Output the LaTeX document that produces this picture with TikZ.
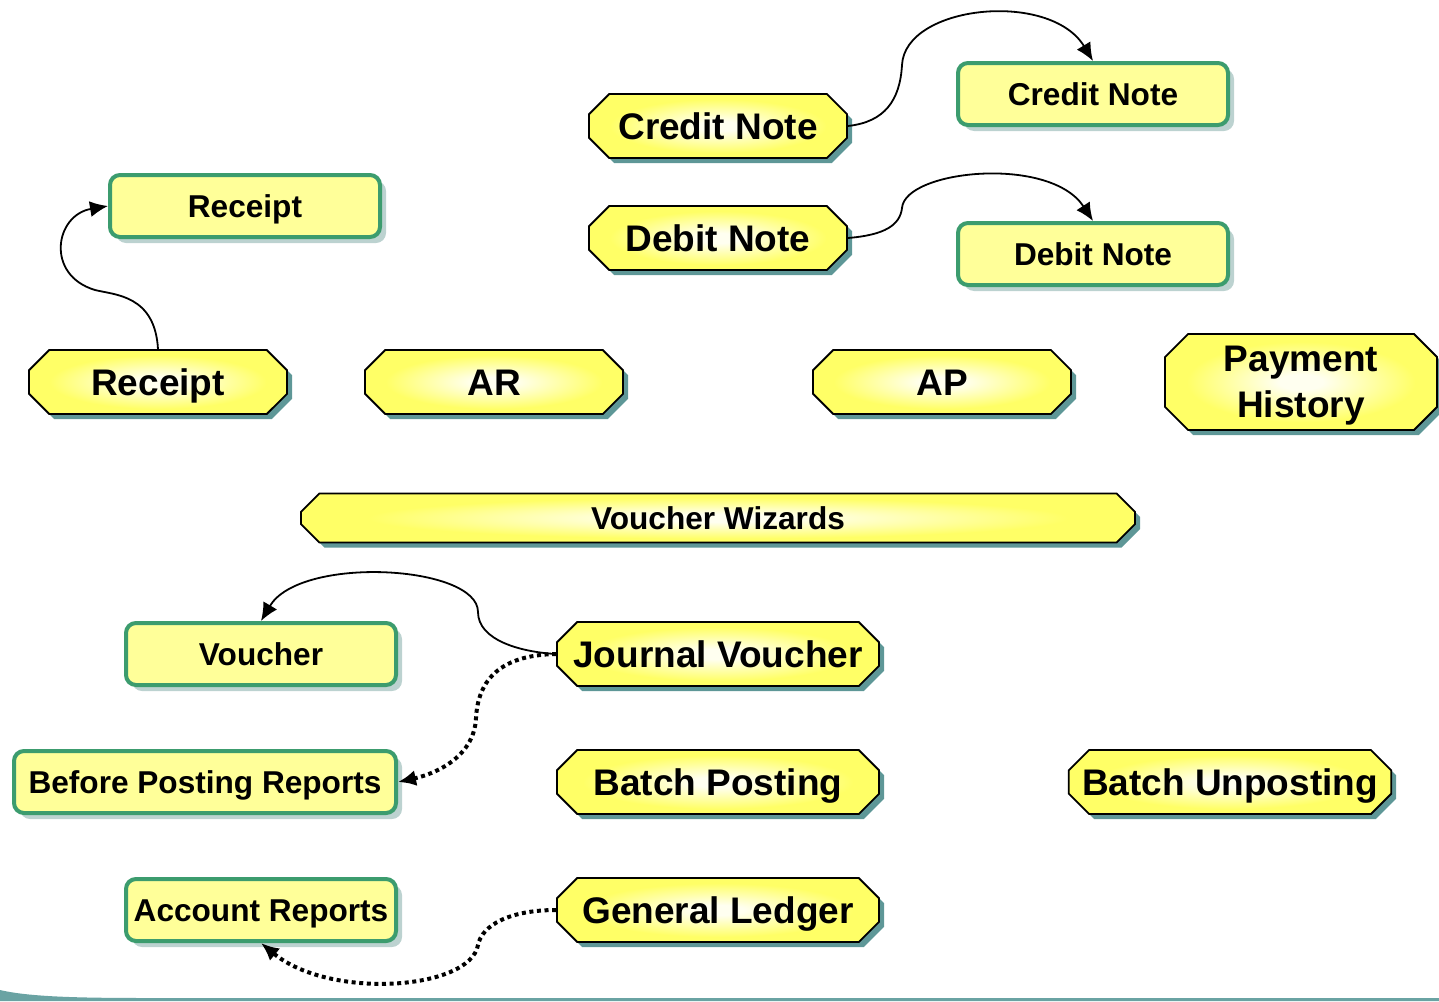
\documentclass[tikz,border=0pt]{standalone}
\usepackage{fontspec}
\setmainfont{Liberation Sans}
\usepackage{tikz}
\usetikzlibrary{positioning}
\usetikzlibrary{shapes.misc,shadows,arrows.meta}

\definecolor{octyellow}{HTML}{FFFF66}
\definecolor{octcore}{HTML}{FFFFF0}
\definecolor{octshadow}{HTML}{5E9797}
\definecolor{boxfill}{HTML}{FFFF99}
\definecolor{boxline}{HTML}{3C9C6E}
\definecolor{boxshadow}{HTML}{BCD2D0}
\definecolor{swoosh}{HTML}{6AA3A3}
\pgfdeclareradialshading{glow}{\pgfpoint{0bp}{0bp}}{color(0bp)=(octcore); color(4bp)=(octcore); color(21bp)=(octyellow); color(50bp)=(octyellow)}
\newcommand{\octfont}{\fontsize{18.5pt}{23pt}\selectfont\bfseries}
\newcommand{\boxfont}{\fontsize{15.8pt}{19pt}\selectfont\bfseries}

\begin{document}
\begin{tikzpicture}[x=0.5pt,y=-0.5pt,
	oct/.style={chamfered rectangle,chamfered rectangle xsep=8pt,draw=black,line width=0.9pt,
		shading=glow,drop shadow={shadow xshift=2.5pt,shadow yshift=-2.5pt,fill=octshadow,opacity=1},
		font=\octfont,text height=13.2pt,text depth=0pt,inner sep=0pt,minimum width=129pt,minimum height=32pt},
	gbox/.style={rectangle,rounded corners=5pt,draw=boxline,line width=2pt,fill=boxfill,
		drop shadow={shadow xshift=3pt,shadow yshift=-3pt,fill=boxshadow,opacity=1},
		font=\boxfont,text height=11.3pt,text depth=0pt,inner sep=0pt,minimum width=135pt,minimum height=31pt},
	link/.style={-{Latex[length=9pt,width=8pt]},line width=0.9pt},
	dotlink/.style={-{Latex[length=9pt,width=8pt]},line width=2pt,dash pattern=on 2pt off 1.8pt}]
	\useasboundingbox (0,0) rectangle (1439,1001);

	\node[oct] (cnb) at (718,126) {Credit Note};
	\node[oct] (dnb) at (718,238) {Debit Note};
	\node[oct] (rb) at (158,382) {Receipt};
	\node[oct] (ar) at (494,382) {AR};
	\node[oct] (ap) at (942,382) {AP};
	\node[oct,minimum width=136pt,minimum height=48pt,align=center,text height={}] (ph) at (1301,382) {Payment\\History};
	\node[oct,minimum width=417pt,minimum height=24.5pt,font=\boxfont,text height=11.3pt] (vw) at (718,518) {Voucher Wizards};
	\node[oct,minimum width=161pt] (jv) at (718,654) {Journal Voucher};
	\node[oct,minimum width=161pt] (bp) at (718,782) {Batch Posting};
	\node[oct,minimum width=161pt] (bu) at (1230,782) {Batch Unposting};
	\node[oct,minimum width=161pt] (gl) at (718,910) {General Ledger};

	\node[gbox] (cns) at (1093,94) {Credit Note};
	\node[gbox] (dns) at (1093,254) {Debit Note};
	\node[gbox] (rs) at (245,206) {Receipt};
	\node[gbox] (vo) at (261,654) {Voucher};
	\node[gbox,minimum width=191pt] (bpr) at (205,782) {Before Posting Reports};
	\node[gbox] (acr) at (261,910) {Account Reports};

	\draw[link] (cnb.east) .. controls (885,122) and (900,100) .. (902,65) .. controls (905,5) and (1050,-10) .. (cns.north);
	\draw[link] (dnb.east) .. controls (885,235) and (900,225) .. (902,208) .. controls (905,170) and (1050,155) .. (dns.north);
	\draw[link] (rb.north) .. controls (155,295) and (115,295) .. (95,290) .. controls (45,275) and (55,215) .. (rs.west);
	\draw[link] (jv.west) .. controls (520,652) and (478,640) .. (478,612) .. controls (478,565) and (300,555) .. (vo.north);
	\draw[dotlink] (jv.west) .. controls (500,655) and (478,680) .. (476,718) .. controls (474,760) and (430,775) .. (bpr.east);
	\draw[dotlink] (gl.west) .. controls (510,910) and (482,925) .. (478,945) .. controls (470,990) and (330,1000) .. (acr.south);

	\fill[swoosh] (0,990) .. controls (30,997) and (80,998) .. (150,998) -- (1439,998) -- (1439,1001) -- (0,1001) -- cycle;
\end{tikzpicture}
\end{document}
